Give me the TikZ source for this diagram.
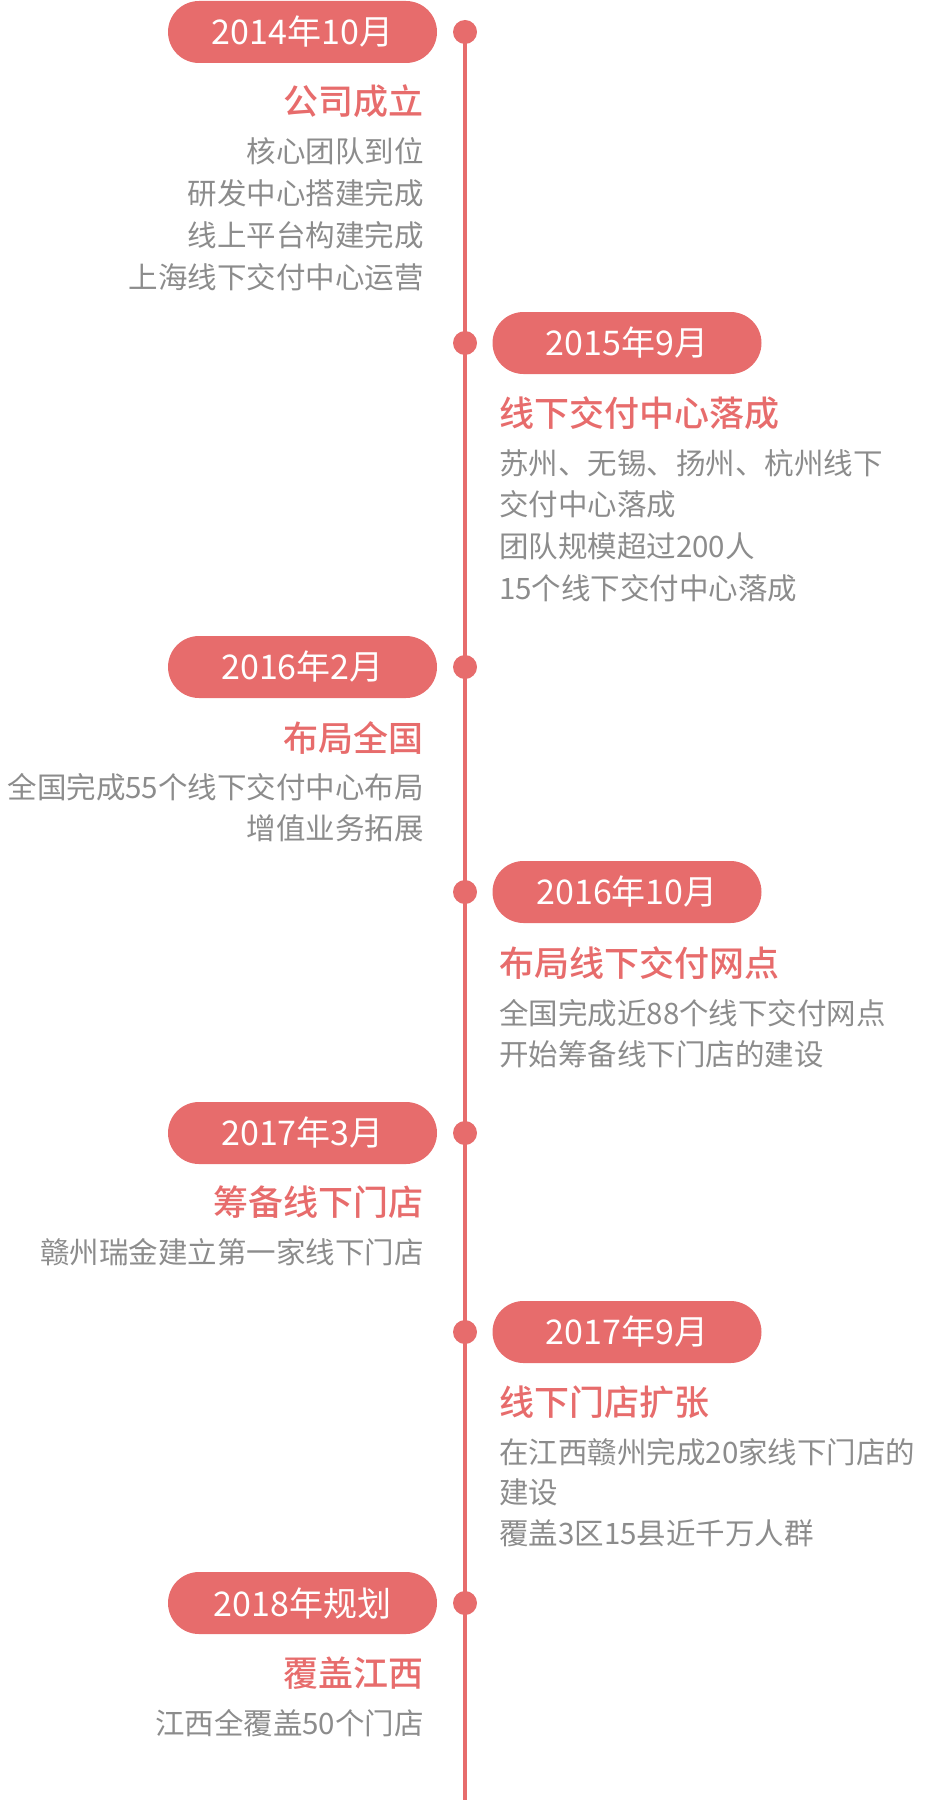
\documentclass[tikz,border=0pt]{standalone}
\usepackage{fontspec}
\setmainfont{Noto Sans CJK SC}
\newfontfamily\headfont{Noto Sans CJK SC Medium}
\definecolor{timered}{HTML}{E76C6C}
\definecolor{bodygray}{HTML}{8C8C8C}

\begin{document}
\begin{tikzpicture}[x=1pt, y=-1pt,
    dot/.style={circle, fill=timered, inner sep=0pt, minimum size=24pt},
    pill/.style={fill=timered, text=white, rounded corners=31pt, minimum width=269pt,
                 minimum height=62pt, inner sep=0pt, font=\fontsize{34}{34}\selectfont},
    headline/.style={text=timered, inner sep=0pt, font=\fontsize{35}{35}\headfont},
    body/.style={text=bodygray, inner sep=0pt, font=\fontsize{29.5}{29.5}\selectfont}]
    \useasboundingbox (0, 0) rectangle (924, 1803);

    % Timeline
    \coordinate (tlend) at (465, 1800);
    \node[dot] (dot1) at (465, 32) {};
    \node[dot] (dot2) at (465, 343) {};
    \node[dot] (dot3) at (465, 667) {};
    \node[dot] (dot4) at (465, 892) {};
    \node[dot] (dot5) at (465, 1133) {};
    \node[dot] (dot6) at (465, 1332) {};
    \node[dot] (dot7) at (465, 1603) {};
    \draw[timered, line width=4pt] (dot1.center) -- (tlend);

    % 2014
    \node[pill] (date1) at (302.5, 32) {2014年10月};
    \node[headline, anchor=base east] (title1) at (424, 115) {公司成立};
    \foreach \t [count=\i] in {核心团队到位, 研发中心搭建完成, 线上平台构建完成, 上海线下交付中心运营}
        \node[body, anchor=base east] (body1-\i) at (424, {163+41.7*(\i-1)}) {\t};

    % 2015
    \node[pill] (date2) at (627, 343) {2015年9月};
    \node[headline, anchor=base west] (title2) at (499, 426) {线下交付中心落成};
    \foreach \t [count=\i] in {苏州、无锡、扬州、杭州线下, 交付中心落成, 团队规模超过200人, 15个线下交付中心落成}
        \node[body, anchor=base west] (body2-\i) at (499, {474+41.7*(\i-1)}) {\t};

    % 2016
    \node[pill] (date3) at (302.5, 667) {2016年2月};
    \node[headline, anchor=base east] (title3) at (424, 751) {布局全国};
    \foreach \t [count=\i] in {全国完成55个线下交付中心布局, 增值业务拓展}
        \node[body, anchor=base east] (body3-\i) at (424, {798+41.7*(\i-1)}) {\t};

    \node[pill] (date4) at (627, 892) {2016年10月};
    \node[headline, anchor=base west] (title4) at (499, 976) {布局线下交付网点};
    \foreach \t [count=\i] in {全国完成近88个线下交付网点, 开始筹备线下门店的建设}
        \node[body, anchor=base west] (body4-\i) at (499, {1024+41.7*(\i-1)}) {\t};

    % 2017
    \node[pill] (date5) at (302.5, 1133) {2017年3月};
    \node[headline, anchor=base east] (title5) at (424, 1215) {筹备线下门店};
    \node[body, anchor=base east] (body5-1) at (424, 1263) {赣州瑞金建立第一家线下门店};

    \node[pill] (date6) at (627, 1332) {2017年9月};
    \node[headline, anchor=base west] (title6) at (499, 1415) {线下门店扩张};
    \foreach \t [count=\i] in {在江西赣州完成20家线下门店的, 建设, 覆盖3区15县近千万人群}
        \node[body, anchor=base west] (body6-\i) at (499, {1463+40.7*(\i-1)}) {\t};

    % 2018
    \node[pill] (date7) at (302.5, 1603) {2018年规划};
    \node[headline, anchor=base east] (title7) at (424, 1686) {覆盖江西};
    \node[body, anchor=base east] (body7-1) at (424, 1734) {江西全覆盖50个门店};
\end{tikzpicture}
\end{document}
